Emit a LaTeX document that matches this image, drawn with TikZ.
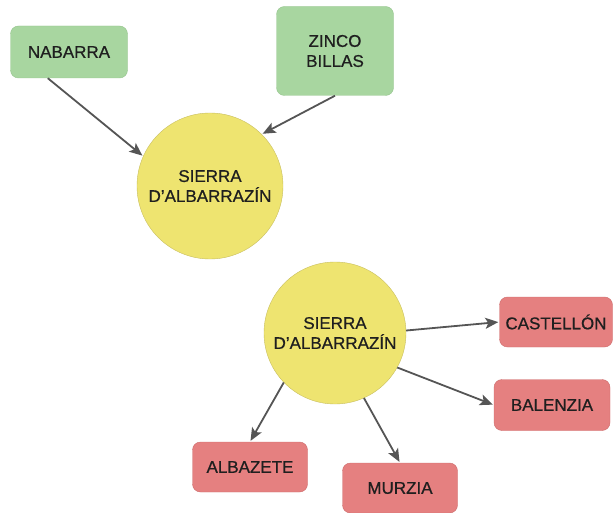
\documentclass[tikz,border=0pt]{standalone}
\usepackage{fontspec}
\setmainfont{Liberation Sans}[BoldFont={Liberation Sans}, BoldFeatures={FakeBold=0.7}]
\usepackage{tikz}
\usetikzlibrary{positioning, arrows.meta}
\definecolor{leafgreen}{RGB}{168,214,160}
\definecolor{leafgreenline}{RGB}{150,196,142}
\definecolor{hubyellow}{RGB}{238,228,112}
\definecolor{hubyellowline}{RGB}{200,190,96}
\definecolor{leafred}{RGB}{229,128,128}
\definecolor{leafredline}{RGB}{205,108,108}
\definecolor{arrowgray}{RGB}{85,85,85}
\tikzset {
    >={Stealth[length=13pt, width=11pt, inset=3pt]},
    inbox/.style={rectangle, rounded corners=8pt, fill=leafgreen, draw=leafgreenline,
        minimum width=117pt, minimum height=52pt, align=center},
    outbox/.style={rectangle, rounded corners=8pt, fill=leafred, draw=leafredline,
        minimum width=115pt, minimum height=50pt, align=center},
    hub/.style={circle, fill=hubyellow, draw=hubyellowline, inner sep=0pt, align=center},
    link/.style={->, draw=arrowgray, line width=1.8pt, shorten >=1pt}
}

\begin{document}
\begin{tikzpicture}[
  x=1pt, y=-1pt,
  every node/.style={font=\fontsize{17}{20}\selectfont\bfseries, text=black!88}
  ]
\useasboundingbox (0,0) rectangle (613,513);

\node[inbox] (nabarra) at (69,52) {NABARRA};
\node[inbox, minimum height=89pt] (zinco) at (335,51) {ZINCO\\BILLAS};
\node[hub, minimum size=146pt] (sierraA) at (210,186) {SIERRA\\D’ALBARRAZÍN};

\node[hub, minimum size=142pt] (sierraB) at (335,333) {SIERRA\\D’ALBARRAZÍN};
\node[outbox, minimum width=113pt] (castellon) at (556,322) {CASTELLÓN};
\node[outbox, minimum width=116pt, minimum height=51pt] (balenzia) at (552,405) {BALENZIA};
\node[outbox] (albazete) at (250,467) {ALBAZETE};
\node[outbox] (murzia) at (400,488) {MURZIA};

\draw[link] (nabarra.231) -- (sierraA.156);
\draw[link] (zinco.south) -- (sierraA.45);

\draw[link] (sierraB.2) -- (castellon.west);
\draw[link] (sierraB.-29) -- (balenzia.west);
\draw[link] (sierraB.224) -- (albazete.north);
\draw[link] (sierraB.-66) -- (murzia.north);

\end{tikzpicture}
\end{document}
